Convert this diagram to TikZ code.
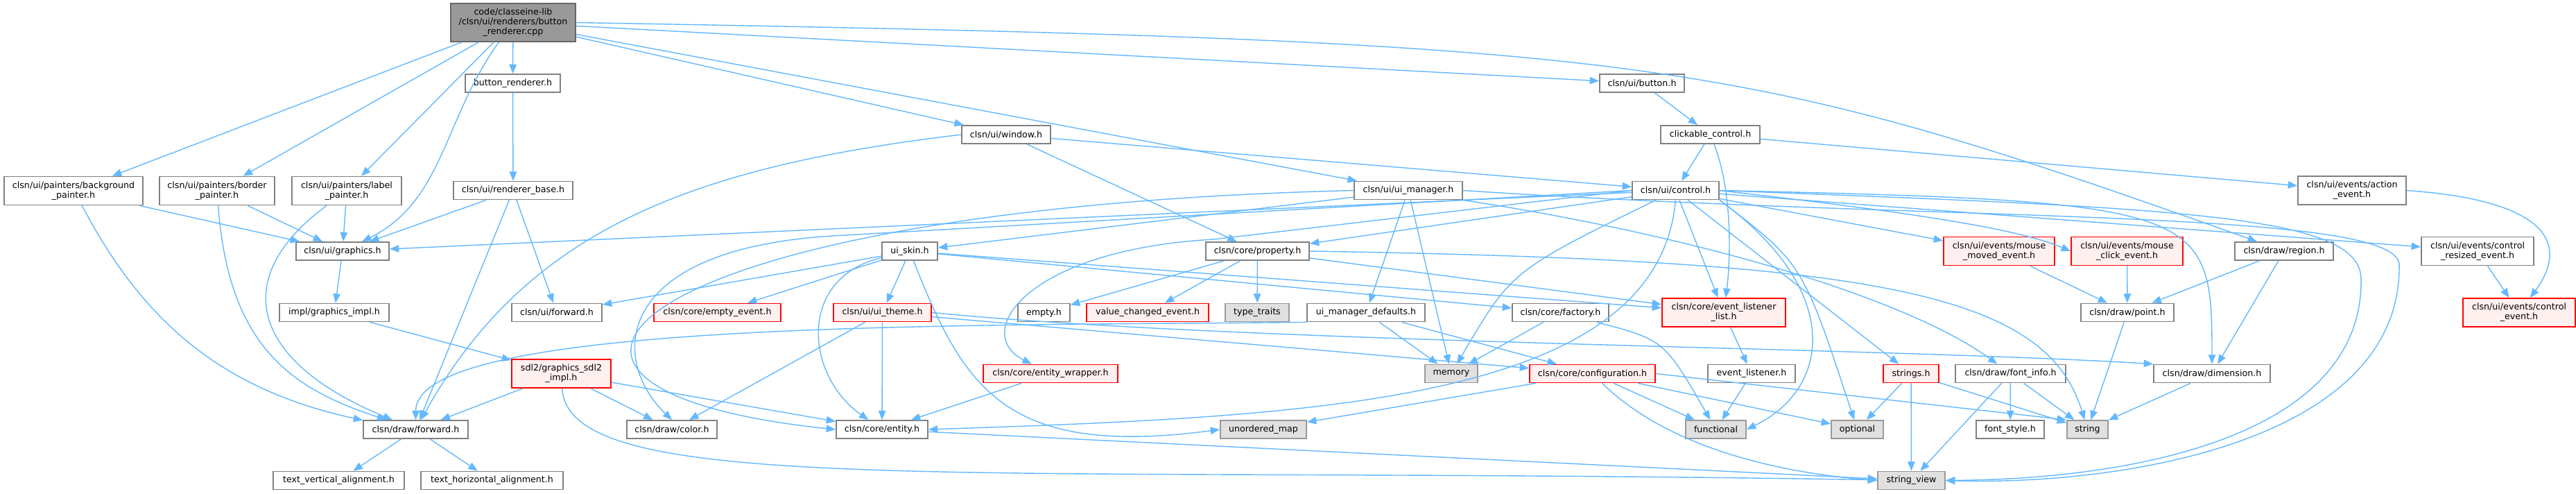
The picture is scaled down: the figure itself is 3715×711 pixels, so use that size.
\documentclass[tikz,border=0pt]{standalone}
\usepackage{fontspec}
\usepackage{tikz}
\usetikzlibrary{arrows.meta}
\newfontfamily\dejavu{DejaVu Sans}
\definecolor{edgeblue}{HTML}{63B8FF}
\definecolor{boxgray}{HTML}{808080}
\definecolor{sysdraw}{HTML}{999999}
\definecolor{sysfill}{HTML}{E0E0E0}
\definecolor{redfill}{HTML}{FFF0F0}
\definecolor{rootdraw}{HTML}{666666}
\definecolor{rootfill}{HTML}{999999}

\begin{document}
\begin{tikzpicture}[x=0.01cm, y=0.01cm,
    file/.style={draw=boxgray, fill=white, line width=0.5pt, inner sep=0pt,
      minimum height=0.26cm, align=center, font=\dejavu\fontsize{3.6}{4}\selectfont},
    redfile/.style={file, draw=red, fill=redfill},
    sysfile/.style={file, draw=sysdraw, fill=sysfill},
    rootfile/.style={file, draw=rootdraw, fill=rootfill},
    tall/.style={minimum height=0.41cm},
    dep/.style={draw=edgeblue, line width=0.4pt, -{Triangle[length=3.8pt,width=3pt]}}]
\useasboundingbox (0,0) rectangle (3715,-711);
                    % Nodes
                    \node[rootfile, minimum width=1.80cm, minimum height=0.55cm] (root) at (740,-32.5) {code/classeine-lib\\/clsn/ui/renderers/button\\\_renderer.cpp};
                    \node[file, minimum width=1.37cm] (btnr) at (739.5,-120) {button\_renderer.h};
                    \node[file, tall, minimum width=2.00cm] (bgp) at (106,-275) {clsn/ui/painters/background\\\_painter.h};
                    \node[file, tall, minimum width=1.66cm] (brp) at (313,-275) {clsn/ui/painters/border\\\_painter.h};
                    \node[file, tall, minimum width=1.58cm] (lbp) at (500,-275) {clsn/ui/painters/label\\\_painter.h};
                    \node[file, minimum width=1.72cm] (rbase) at (740,-274.5) {clsn/ui/renderer\_base.h};
                    \node[file, minimum width=1.34cm] (gfx) at (494,-362) {clsn/ui/graphics.h};
                    \node[file, minimum width=1.58cm] (gimpl) at (482,-450.5) {impl/graphics\_impl.h};
                    \node[file, minimum width=1.30cm] (uifwd) at (803,-450.5) {clsn/ui/forward.h};
                    \node[redfile, minimum width=1.83cm] (emptyev) at (1034.5,-450.5) {clsn/core/empty\_event.h};
                    \node[redfile, tall, minimum width=1.43cm] (sdl2) at (809.5,-538.5) {sdl2/graphics\_sdl2\\\_impl.h};
                    \node[file, minimum width=1.51cm] (dfwd) at (599.5,-619) {clsn/draw/forward.h};
                    \node[file, minimum width=1.30cm] (color) at (969,-619) {clsn/draw/color.h};
                    \node[file, minimum width=1.89cm] (tva) at (488.5,-692.5) {text\_vertical\_alignment.h};
                    \node[file, minimum width=2.05cm] (tha) at (709.5,-692.5) {text\_horizontal\_alignment.h};
                    \node[file, minimum width=1.22cm] (button) at (2368,-120) {clsn/ui/button.h};
                    \node[file, minimum width=1.28cm] (window) at (1451,-194) {clsn/ui/window.h};
                    \node[file, minimum width=1.43cm] (clickable) at (2466.5,-194) {clickable\_control.h};
                    \node[file, minimum width=1.56cm] (uimgr) at (2031,-274.5) {clsn/ui/ui\_manager.h};
                    \node[file, minimum width=1.25cm] (control) at (2416.5,-274.5) {clsn/ui/control.h};
                    \node[file, tall, minimum width=1.56cm] (action) at (3392,-274.5) {clsn/ui/events/action\\\_event.h};
                    \node[file, minimum width=0.80cm] (uiskin) at (1312,-362) {ui\_skin.h};
                    \node[file, minimum width=1.49cm] (property) at (1813.5,-362) {clsn/core/property.h};
                    \node[redfile, tall, minimum width=1.60cm] (mmoved) at (2883,-362) {clsn/ui/events/mouse\\\_moved\_event.h};
                    \node[redfile, tall, minimum width=1.61cm] (mclick) at (3067.5,-362) {clsn/ui/events/mouse\\\_click\_event.h};
                    \node[file, minimum width=1.42cm] (region) at (3294,-362) {clsn/draw/region.h};
                    \node[file, tall, minimum width=1.62cm] (cresized) at (3573,-362) {clsn/ui/events/control\\\_resized\_event.h};
                    \node[redfile, minimum width=1.41cm] (uitheme) at (1272.5,-450.5) {clsn/ui/ui\_theme.h};
                    \node[file, minimum width=0.75cm] (empty) at (1505.5,-450.5) {empty.h};
                    \node[redfile, minimum width=1.76cm] (vce) at (1655,-450.5) {value\_changed\_event.h};
                    \node[sysfile, minimum width=0.92cm] (typetraits) at (1813,-450.5) {type\_traits};
                    \node[file, minimum width=1.70cm] (umd) at (1970,-450.5) {ui\_manager\_defaults.h};
                    \node[file, minimum width=1.39cm] (factory) at (2250.5,-450.5) {clsn/core/factory.h};
                    \node[redfile, tall, minimum width=1.78cm] (ell) at (2486,-450.5) {clsn/core/event\_listener\\\_list.h};
                    \node[file, minimum width=1.34cm] (point) at (3068,-450.5) {clsn/draw/point.h};
                    \node[redfile, tall, minimum width=1.62cm] (cevent) at (3633,-450.5) {clsn/ui/events/control\\\_event.h};
                    \node[redfile, minimum width=1.94cm] (entitywrap) at (1515,-538.5) {clsn/core/entity\_wrapper.h};
                    \node[sysfile, minimum width=0.76cm] (memory) at (2093,-538.5) {memory};
                    \node[redfile, minimum width=1.81cm] (config) at (2296.5,-538.5) {clsn/core/configuration.h};
                    \node[file, minimum width=1.26cm] (evlistener) at (2526,-538.5) {event\_listener.h};
                    \node[redfile, minimum width=0.80cm] (strings) at (2756,-538.5) {strings.h};
                    \node[file, minimum width=1.59cm] (fontinfo) at (2899.5,-538.5) {clsn/draw/font\_info.h};
                    \node[file, minimum width=1.68cm] (dimension) at (3190,-538.5) {clsn/draw/dimension.h};
                    \node[file, minimum width=1.32cm] (entity) at (1272,-619) {clsn/core/entity.h};
                    \node[sysfile, minimum width=1.24cm] (umap) at (1822,-619) {unordered\_map};
                    \node[sysfile, minimum width=0.87cm] (functional) at (2474.5,-619) {functional};
                    \node[sysfile, minimum width=0.75cm] (optional) at (2678.5,-619) {optional};
                    \node[file, minimum width=0.98cm] (fontstyle) at (2899,-619) {font\_style.h};
                    \node[sysfile, minimum width=0.59cm] (string) at (3010.5,-619) {string};
                    \node[sysfile, minimum width=0.97cm] (sview) at (2756.5,-692.5) {string\_view};
                    % Edges
                    \draw[dep] (root) -- (bgp);
                    \draw[dep] (root) -- (brp);
                    \draw[dep] (root) -- (lbp);
                    \draw[dep] (root) .. controls (640,-170) and (640,-290) .. (gfx);
                    \draw[dep] (root) -- (btnr);
                    \draw[dep] (root) -- (button);
                    \draw[dep] (root) -- (window);
                    \draw[dep] (root) -- (uimgr);
                    \draw[dep] (root.east) .. controls (2400,-60) and (2500,-80) .. (region);
                    \draw[dep] (btnr) -- (rbase);
                    \draw[dep] (rbase) -- (gfx);
                    \draw[dep] (rbase) -- (dfwd);
                    \draw[dep] (rbase) -- (uifwd);
                    \draw[dep] (bgp) -- (gfx);
                    \draw[dep] (bgp) to[bend right=25] (dfwd);
                    \draw[dep] (brp) -- (gfx);
                    \draw[dep] (brp) .. controls (330,-500) and (420,-560) .. (dfwd);
                    \draw[dep] (lbp) -- (gfx);
                    \draw[dep] (lbp) .. controls (330,-400) and (360,-520) .. (dfwd);
                    \draw[dep] (gfx) -- (gimpl);
                    \draw[dep] (gimpl) -- (sdl2);
                    \draw[dep] (sdl2) -- (dfwd);
                    \draw[dep] (sdl2) -- (color);
                    \draw[dep] (sdl2) -- (entity);
                    \draw[dep] (sdl2) .. controls (820,-720) and (1400,-670) .. (sview);
                    \draw[dep] (dfwd) -- (tva);
                    \draw[dep] (dfwd) -- (tha);
                    \draw[dep] (button) -- (clickable);
                    \draw[dep] (clickable) -- (control);
                    \draw[dep] (clickable) .. controls (2500,-280) and (2495,-380) .. (ell);
                    \draw[dep] (clickable) -- (action);
                    \draw[dep] (window) -- (control);
                    \draw[dep] (window) -- (property);
                    \draw[dep] (window.west) .. controls (1000,-240) and (760,-330) .. (dfwd);
                    \draw[dep] (uimgr) -- (uiskin);
                    \draw[dep] (uimgr) -- (umd);
                    \draw[dep] (uimgr) -- (memory);
                    \draw[dep] (uimgr.west) .. controls (900,-300) and (640,-560) .. (entity.west);
                    \draw[dep] (uimgr.south east) .. controls (2450,-340) and (2750,-430) .. (fontinfo);
                    \draw[dep] (uimgr.east) .. controls (2800,-320) and (3450,-300) .. (3460,-380)
                        .. controls (3465,-640) and (3050,-700) .. (sview.east);
                    \draw[dep] (control) -- (property);
                    \draw[dep] (control) -- (gfx);
                    \draw[dep] (control.west) -- (1200,-340) .. controls (880,-360) and (880,-520) .. (color.north);
                    \draw[dep] (control.west) -- (1750,-345) .. controls (1480,-360) and (1400,-480) .. (entitywrap);
                    \draw[dep] (control) .. controls (2180,-390) .. (memory);
                    \draw[dep] (control) -- (ell);
                    \draw[dep] (control.south east) .. controls (2660,-420) and (2640,-560) .. (functional.east);
                    \draw[dep] (control.south east) .. controls (2600,-380) .. (optional);
                    \draw[dep] (control.south) .. controls (2390,-580) and (1900,-600) .. (entity.east);
                    \draw[dep] (control) -- (mmoved);
                    \draw[dep] (control.east) .. controls (2700,-300) and (2900,-325) .. (mclick.west);
                    \draw[dep] (control) -- (cresized);
                    \draw[dep] (control.east) .. controls (3180,-290) and (3190,-300) .. (dimension.north);
                    \draw[dep] (control.east) .. controls (3150,-300) and (3400,-310) .. (3405,-400)
                        .. controls (3410,-620) and (3100,-690) .. (sview.east);
                    \draw[dep] (control) -- (strings);
                    \draw[dep] (action.east) .. controls (3690,-290) and (3700,-360) .. (cevent);
                    \draw[dep] (cresized) -- (cevent);
                    \draw[dep] (uiskin) -- (uitheme);
                    \draw[dep] (uiskin) -- (uifwd);
                    \draw[dep] (uiskin) -- (emptyev);
                    \draw[dep] (uiskin) .. controls (1150,-400) and (1160,-540) .. (entity);
                    \draw[dep] (uiskin) .. controls (1390,-560) and (1450,-660) .. (umap.west);
                    \draw[dep] (uiskin) -- (ell);
                    \draw[dep] (uiskin) -- (factory);
                    \draw[dep] (uitheme) -- (entity);
                    \draw[dep] (uitheme) -- (color);
                    \draw[dep] (uitheme) -- (config);
                    \draw[dep] (uitheme.east) .. controls (1800,-495) and (2700,-500) .. (dimension.north west);
                    \draw[dep] (property) -- (empty);
                    \draw[dep] (property) -- (vce);
                    \draw[dep] (property) -- (typetraits);
                    \draw[dep] (property) -- (ell);
                    \draw[dep] (property.east) .. controls (2700,-375) and (2950,-420) .. (string);
                    \draw[dep] (umd.south west) .. controls (1400,-470) and (600,-460) .. (dfwd);
                    \draw[dep] (umd) -- (memory);
                    \draw[dep] (umd) -- (config);
                    \draw[dep] (factory) -- (memory);
                    \draw[dep] (factory) .. controls (2400,-490) .. (functional);
                    \draw[dep] (ell) -- (evlistener);
                    \draw[dep] (evlistener) -- (functional);
                    \draw[dep] (entitywrap) -- (entity);
                    \draw[dep] (entity) -- (sview);
                    \draw[dep] (config) -- (umap);
                    \draw[dep] (config) -- (functional);
                    \draw[dep] (config) -- (optional);
                    \draw[dep] (config.east) -- (string.north west);
                    \draw[dep] (config) .. controls (2400,-640) and (2550,-680) .. (sview.west);
                    \draw[dep] (strings) -- (optional);
                    \draw[dep] (strings) -- (sview);
                    \draw[dep] (strings) -- (string);
                    \draw[dep] (fontinfo) -- (fontstyle);
                    \draw[dep] (fontinfo) -- (string);
                    \draw[dep] (fontinfo) -- (sview);
                    \draw[dep] (dimension) -- (string);
                    \draw[dep] (region) -- (point);
                    \draw[dep] (region) -- (dimension);
                    \draw[dep] (mmoved) -- (point);
                    \draw[dep] (mclick) -- (point);
                    \draw[dep] (point) -- (string);
\end{tikzpicture}
\end{document}
